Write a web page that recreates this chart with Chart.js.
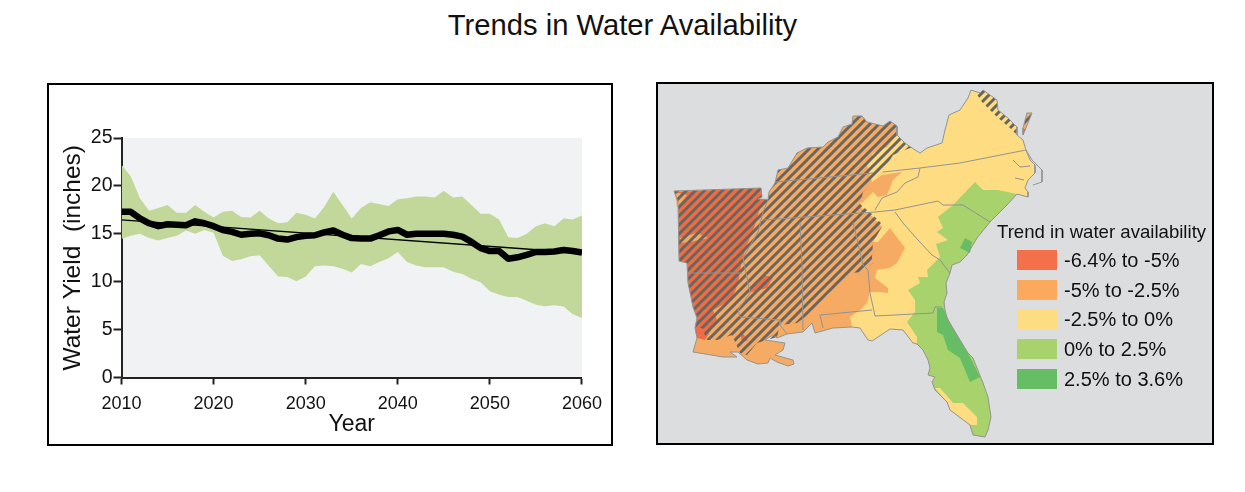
<!DOCTYPE html>
<html>
<head>
<meta charset="utf-8">
<title>Trends in Water Availability</title>
<script src="https://cdn.jsdelivr.net/npm/chart.js@4"></script>
<style>
  html, body { margin: 0; padding: 0; background: #fff; font-family: "Liberation Sans", Arial, sans-serif; color: #111; }
  #page { position: relative; width: 1245px; height: 492px; overflow: hidden; }
  #title { position: absolute; left: 0; top: 7px; width: 1245px; text-align: center; font-size: 29.2px; line-height: 36px; }
  .frame { position: absolute; box-sizing: border-box; border: 2px solid #000; }
  #leftFrame { left: 47px; top: 83px; width: 566px; height: 363px; }
  #rightFrame { left: 656px; top: 82px; width: 558px; height: 363px; background: #dcddde; }
  canvas { display: block; }
  #legendTitle { position: absolute; left: 997px; top: 221px; font-size: 18.6px; line-height: 22px; white-space: nowrap; }
  .swatch { position: absolute; left: 1017px; width: 40px; height: 20px; }
  .legendText { position: absolute; left: 1064px; font-size: 20px; line-height: 22px; white-space: nowrap; }
</style>
</head>
<body>
<div id="page">
  <div id="title">Trends in Water Availability</div>
  <div class="frame" id="leftFrame"><canvas id="yieldChart" width="562" height="359"></canvas></div>
  <div class="frame" id="rightFrame"><canvas id="mapChart" width="554" height="359"></canvas></div>
  <div id="legendTitle">Trend in water availability</div>
  <div id="legend"></div>
</div>
<script>
// Line chart data, one value per year 2010..2060
const years = [2010,2011,2012,2013,2014,2015,2016,2017,2018,2019,2020,2021,2022,2023,2024,2025,2026,2027,2028,2029,2030,2031,2032,2033,2034,2035,2036,2037,2038,2039,2040,2041,2042,2043,2044,2045,2046,2047,2048,2049,2050,2051,2052,2053,2054,2055,2056,2057,2058,2059,2060];
const meanYield = [17.3,17.3,16.6,16.1,15.8,16,15.95,15.9,16.3,16.1,15.8,15.4,15.2,14.9,15,15.05,14.85,14.5,14.4,14.65,14.8,14.85,15.15,15.35,14.9,14.55,14.5,14.5,14.85,15.25,15.4,14.9,15,15,15,15,14.9,14.7,14.15,13.5,13.2,13.2,12.4,12.55,12.8,13.1,13.1,13.15,13.3,13.2,13.05];
const upperYield = [22.2,21,18.7,17.4,17.7,18,17.2,17.2,18,17.3,16.7,17.3,17.4,16.75,16.7,17.4,16.6,16.1,16.2,17.2,17,16.6,17.8,19.4,18,16.6,17.7,18.3,18.1,17.9,18.6,18.7,18.9,18.9,18.8,19.5,18.8,18.9,18,17.1,17.1,16.5,14.65,14.55,15,15.8,16.1,15.8,16.6,16.5,16.9];
const lowerYield = [14.45,14.8,15,14.55,14.3,14.55,14.8,15.35,15,15.4,15.1,12.7,12.15,12.35,12.65,12.75,11.65,10.55,10.5,10.05,10.55,11.6,11.7,11.6,11.35,10.97,11.85,11.6,12.05,12.45,13.1,12.05,11.7,11.5,11.5,11.5,11.05,10.8,10.3,9.95,9,8.65,8.4,8.4,8,7.6,7.45,7.55,7.4,6.6,6.2];
const trendYears = [2010, 2060];
const trendYield = [16.45, 13];

// Legend
const legendLabels = ['-6.4% to -5%', '-5% to -2.5%', '-2.5% to 0%', '0% to 2.5%', '2.5% to 3.6%'];
const legendColors = ['#f4704a', '#fba95d', '#fedc82', '#a8d26b', '#66bd63'];

// Map outline pieces (map units = picture pixels)
const arkansasTop = [[674,191],[761,188],[762,197],[758,199],[768,199.5]];
const northEdge = [[769,192],[775,183],[778,170],[788,168],[791,163],[797,153],[807,148],[823,147],[828,142],[838,137],[843,127],[852,124],[853,116],[862,116],[867,122],[883,126],[890,121],[897,126],[897,135]];
const kentuckyEdge = [[905,143],[912,148]];
const virginiaEdge = [[920,153],[927,148],[942,143],[945,130],[949,115],[960,110],[968,98],[971,90],[980,93],[983,90],[997,100],[998,110],[1008,118],[1017,127],[1017,135],[1023,140],[1026,150]];
const carolinaCoast = [[1030,160],[1035,165],[1035,173],[1028,180],[1025,188],[1028,192],[1028,197],[1017,194]];
const atlanticCoast = [[1007,205],[990,222],[977,238],[967,255],[960,262],[952,265],[950,273],[946,283],[947,293],[944,302],[945,310],[947,318],[957,335],[968,353],[973,358],[983,383],[988,397],[991,417],[988,430],[985,437],[973,435],[970,425]];
const floridaSouthwest = [[950,410],[947,402],[935,390]];
const floridaWest = [[932,382],[935,377],[928,375],[930,368],[928,360],[923,350],[917,344]];
const panhandleCoast = [[913,343],[903,330],[890,329],[872,341],[868,340],[860,328],[852,327]];
const gulfCoast = [[833,328],[815,333],[812,323],[803,332],[787,334],[777,338],[773,335],[765,340],[785,343],[783,350],[775,355],[793,360],[794,364],[788,366],[777,362],[770,358],[768,363],[758,364],[747,360],[738,352],[730,352],[737,357],[723,357],[693,352]];
const westEdge = [[697,338],[695,328],[697,318],[693,307],[688,283],[687,263],[679,261],[678,202]];

// Class boundaries inside the map
const orangeEastLine = [[887,147],[873,153],[867,165],[872,182],[882,175],[902,172],[893,180],[887,195],[878,197],[873,192],[863,202],[860,203],[862,208],[873,217],[882,227],[873,242],[878,242],[890,228],[905,248],[897,263],[890,268],[877,270],[875,278],[888,288],[888,293],[880,292],[870,292],[867,303],[860,310],[850,317]];
const redEastLine = [[760,208],[755,225],[747,245],[742,260],[738,283],[732,300],[713,310],[717,320],[705,340]];
const greenWestLine = [[917,337],[907,322],[915,312],[915,300],[908,290],[920,283],[918,277],[928,277],[927,270],[940,257],[936,244],[948,240],[937,232],[943,228],[938,217],[953,205],[975,182],[983,190],[998,190]];
const hatchEastLine = [[910,148],[893,155],[883,172],[872,182],[863,192],[860,204],[873,215],[883,225],[873,242],[872,258],[873,263],[863,272],[850,273],[845,280],[827,295],[815,310],[797,323],[780,325],[777,337],[757,343],[747,355],[740,353],[732,335],[717,340],[707,340],[702,328],[696,328]];

// Small patches
const redLobe = [[748,293],[763,275],[773,277],[767,288]];
const redSpot = [[740,330],[748,340],[742,343]];
const orangeCorner = [[675,192],[687,195],[677,208]];
const orangeStreak = [[680,238],[697,233],[708,238],[690,242],[680,243]];
const floridaDarkGreen = [[937,308],[943,308],[950,323],[960,340],[970,357],[980,377],[970,382],[965,370],[960,358],[948,350],[943,335],[937,332]];
const carolinaDarkGreen = [[965,238],[972,242],[970,253],[960,248]];
const floridaYellow = [[935,388],[940,388],[948,397],[953,403],[963,403],[977,417],[977,425],[970,425],[950,410],[947,402]];
const virginiaHatch = [[980,93],[983,90],[997,100],[998,110],[1008,118],[1017,127],[1017,135],[1010,128],[997,117],[982,102],[976,93]];
const delmarva = [[1023,135],[1032,113],[1027,113],[1023,128]];

// State lines and the thin outer banks
const stateLines = [
  [[883,172],[920,168],[960,163],[1026,150]],
  [[920,168],[918,177],[905,183],[897,192],[882,198],[875,210]],
  [[875,212],[895,210],[938,201],[943,205],[963,205],[990,222]],
  [[895,212],[903,223],[918,240],[932,255],[940,260],[950,273]],
  [[775,182],[873,173]],
  [[763,220],[875,212]],
  [[768,200],[763,212],[758,232],[743,258],[750,293],[738,310],[740,317],[780,320],[780,325],[787,334]],
  [[800,222],[802,265],[803,330]],
  [[853,222],[863,265],[868,270],[870,293],[875,316],[933,313],[935,307],[942,307]],
  [[820,315],[872,310]],
  [[820,315],[823,328]],
  [[687,273],[742,273]],
  [[1026,150],[1032,160],[1042,170],[1042,182],[1033,185]],
  [[1013,160],[1020,167],[1030,166]],
  [[1015,178],[1024,180]]
];

function toPoints(pairs) {
  return pairs.map(p => ({ x: p[0], y: p[1] }));
}

// Diagonal stripes used for the hatched area
function makeHatch() {
  const size = 9;
  const tile = document.createElement('canvas');
  tile.width = size;
  tile.height = size;
  const c = tile.getContext('2d');
  c.strokeStyle = '#6b655f';
  c.lineWidth = 3;
  c.beginPath();
  c.moveTo(-size, size); c.lineTo(size, -size);
  c.moveTo(0, size * 2); c.lineTo(size * 2, 0);
  c.moveTo(0, size); c.lineTo(size, 0);
  c.stroke();
  return c.createPattern(tile, 'repeat');
}

// Legend, real html text
const legendBox = document.getElementById('legend');
legendLabels.forEach((label, i) => {
  const top = 250 + i * 29.7;
  const swatch = document.createElement('div');
  swatch.className = 'swatch';
  swatch.style.top = top + 'px';
  swatch.style.background = legendColors[i];
  legendBox.appendChild(swatch);
  const text = document.createElement('div');
  text.className = 'legendText';
  text.style.top = (top - 1) + 'px';
  text.textContent = label;
  legendBox.appendChild(text);
});

// Grey panel behind the plot
const plotBackground = {
  id: 'plotBackground',
  beforeDraw(chart) {
    const a = chart.chartArea;
    chart.ctx.fillStyle = '#f1f2f3';
    chart.ctx.fillRect(a.left, a.top, a.right - a.left, a.bottom - a.top);
  }
};

new Chart(document.getElementById('yieldChart'), {
  type: 'line',
  plugins: [plotBackground],
  data: {
    datasets: [
      { data: years.map((y, i) => ({ x: y, y: meanYield[i] })), borderColor: '#000', borderWidth: 6.5, pointRadius: 0, borderJoinStyle: 'round' },
      { data: trendYears.map((y, i) => ({ x: y, y: trendYield[i] })), borderColor: '#000', borderWidth: 1.4, pointRadius: 0 },
      { data: years.map((y, i) => ({ x: y, y: upperYield[i] })), borderWidth: 0, pointRadius: 0, backgroundColor: '#c2d89b', fill: '+1' },
      { data: years.map((y, i) => ({ x: y, y: lowerYield[i] })), borderWidth: 0, pointRadius: 0 }
    ]
  },
  options: {
    responsive: false,
    animation: false,
    events: [],
    layout: { padding: { top: 53, right: 29, left: 0, bottom: 0 } },
    plugins: { legend: { display: false }, tooltip: { enabled: false } },
    scales: {
      x: {
        type: 'linear', min: 2010, max: 2060,
        afterFit: s => { s.height = 66.5; },
        grid: { drawOnChartArea: false, tickLength: 7, tickWidth: 2, tickColor: '#222' },
        border: { color: '#222', width: 2 },
        ticks: { stepSize: 10, color: '#111', padding: 9, maxRotation: 0, font: { family: 'Liberation Sans', size: 18 }, callback: v => String(v) },
        title: { display: true, text: 'Year', color: '#111', padding: { top: 0, bottom: 6 }, font: { family: 'Liberation Sans', size: 23 } }
      },
      y: {
        min: 0, max: 25,
        afterFit: s => { s.width = 72.5; },
        grid: { drawOnChartArea: false, tickLength: 8, tickWidth: 2, tickColor: '#222' },
        border: { color: '#222', width: 2 },
        ticks: { stepSize: 5, color: '#111', padding: 1, font: { family: 'Liberation Sans', size: 19.5 } },
        title: { display: true, text: 'Water Yield  (inches)', color: '#111', padding: { top: 10, bottom: 0 }, font: { family: 'Liberation Sans', size: 24.5 } }
      }
    }
  }
});

// Map layers, bottom one first
const fullOutline = [...arkansasTop, ...northEdge, ...kentuckyEdge, ...virginiaEdge, ...carolinaCoast, ...atlanticCoast, ...floridaSouthwest, ...floridaWest, ...panhandleCoast, ...gulfCoast, ...westEdge];
const orangeArea = [...arkansasTop, ...northEdge, ...orangeEastLine, [852,327], ...gulfCoast, ...westEdge];
const redArea = [[676,192],[761,188],[762,197],[758,199],[768,199.5], ...redEastLine, ...westEdge];
const greenArea = [...greenWestLine, [1017,194], ...atlanticCoast, ...floridaSouthwest, ...floridaWest];
const hatchArea = [...arkansasTop, ...northEdge, ...kentuckyEdge, ...hatchEastLine, ...westEdge];

const hatch = makeHatch();
const layers = [
  [fullOutline, legendColors[2]],
  [orangeArea, '#f5ab63'],
  [redArea, '#ee6d45'],
  [orangeCorner, '#f5ab63'],
  [orangeStreak, '#f5ab63'],
  [redLobe, '#ee6d45'],
  [redSpot, '#ee6d45'],
  [greenArea, legendColors[3]],
  [floridaYellow, legendColors[2]],
  [floridaDarkGreen, legendColors[4]],
  [carolinaDarkGreen, legendColors[4]],
  [delmarva, '#f5ab63'],
  [hatchArea, hatch],
  [virginiaHatch, hatch],
  [delmarva, hatch]
];

const mapDatasets = layers.map((layer, i) => ({
  data: toPoints(layer[0]),
  showLine: true, pointRadius: 0, borderWidth: 0, fill: 'shape',
  backgroundColor: layer[1],
  order: 100 - i
}));
stateLines.forEach(line => {
  mapDatasets.push({ data: toPoints(line), showLine: true, pointRadius: 0, borderWidth: 1, borderColor: '#939393', fill: false, order: 2 });
});
mapDatasets.push({ data: toPoints([...fullOutline, fullOutline[0]]), showLine: true, pointRadius: 0, borderWidth: 1, borderColor: '#939393', borderJoinStyle: 'round', fill: false, order: 1 });
mapDatasets.push({ data: toPoints([...delmarva, delmarva[0]]), showLine: true, pointRadius: 0, borderWidth: 1, borderColor: '#939393', fill: false, order: 1 });

new Chart(document.getElementById('mapChart'), {
  type: 'scatter',
  data: { datasets: mapDatasets },
  options: {
    responsive: false,
    animation: false,
    events: [],
    layout: { padding: 0 },
    plugins: { legend: { display: false }, tooltip: { enabled: false } },
    scales: {
      x: { type: 'linear', display: false, min: 658, max: 1212 },
      y: { type: 'linear', display: false, reverse: true, min: 84, max: 443 }
    }
  }
});
</script>
</body>
</html>
